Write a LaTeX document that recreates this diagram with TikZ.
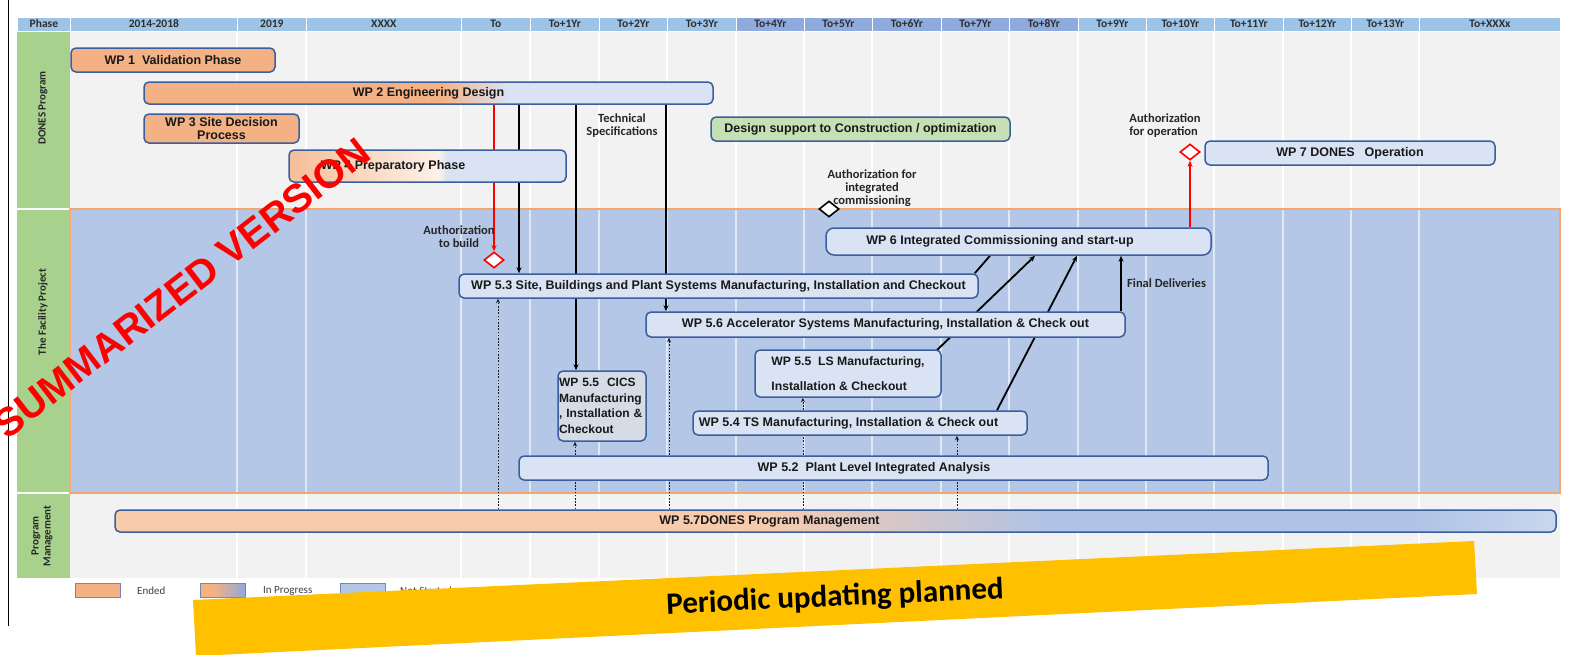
\documentclass[tikz,border=0pt]{standalone}
\usepackage{fontspec}
\setmainfont{Liberation Sans}
\newfontfamily\carl{Carlito}
\usetikzlibrary{shapes.geometric,arrows.meta,calc}
\definecolor{hb}{HTML}{9DC3E6}
\definecolor{hd}{HTML}{8FAADC}
\definecolor{hdt}{HTML}{2E2E2E}
\definecolor{lgray}{HTML}{F2F2F2}
\definecolor{lgreen}{HTML}{A9D18E}
\definecolor{fac}{HTML}{B4C7E7}
\definecolor{facb}{HTML}{F4A870}
\definecolor{bdr}{HTML}{3B5E9E}
\definecolor{lbl}{HTML}{DAE3F3}
\definecolor{orA}{HTML}{F4B183}
\definecolor{grn}{HTML}{C5E0B4}
\definecolor{cicsf}{HTML}{D6DCE5}
\definecolor{yel}{HTML}{FFC000}
\definecolor{txtg}{HTML}{262626}
\definecolor{pch}{HTML}{F5BE98}
\definecolor{pwh}{HTML}{FDF1EA}
\definecolor{pmo}{HTML}{F8CBAD}
\definecolor{pmb}{HTML}{AFC3E6}
\definecolor{pml}{HTML}{C9D7EE}
\definecolor{redc}{HTML}{FF0000}
\pgfdeclarelayer{bg}
\pgfdeclarelayer{lines}
\pgfsetlayers{bg,lines,main}
\pgfdeclarehorizontalshading{wptwo}{100bp}{color(0bp)=(orA); color(51bp)=(orA); color(57bp)=(lbl); color(100bp)=(lbl)}
\pgfdeclarehorizontalshading{wpfour}{100bp}{color(0bp)=(pch); color(25bp)=(pch); color(52bp)=(pwh); color(53.5bp)=(lbl); color(100bp)=(lbl)}
\pgfdeclarehorizontalshading{wpsev}{100bp}{color(0bp)=(pmo); color(47.5bp)=(pmo); color(57.5bp)=(pmb); color(70bp)=(pmb); color(75bp)=(pml); color(100bp)=(pml)}
\pgfdeclarehorizontalshading{inprog}{100bp}{color(0bp)=(orA); color(40bp)=(orA); color(75bp)=(hd); color(100bp)=(hd)}
\tikzset{
  wp/.style={draw=bdr, line width=1.5pt, rounded corners=5pt, fill=lbl, inner sep=1pt,
    font=\fontsize{12.5}{15}\selectfont\bfseries, text=black!90},
  ann/.style={font=\carl\bfseries\fontsize{12.5}{13}\selectfont, text=txtg, align=center, inner sep=0pt},
  hdr/.style={draw=white, line width=0.8pt, minimum height=14pt, inner sep=0pt, anchor=west,
    font=\carl\bfseries\fontsize{11.5}{11.5}\selectfont, text=hdt},
  lane/.style={rotate=90, font=\carl\bfseries\fontsize{11}{12}\selectfont, text=black!85, align=center, inner sep=0pt},
  blk/.style={line width=1.8pt, black, -{Stealth[length=6pt,width=5pt]}},
  blkline/.style={line width=1.8pt, black},
  redarr/.style={line width=1.8pt, redc, -{Stealth[length=6pt,width=5pt]}},
  dotarr/.style={line width=1pt, black!90, dash pattern=on 1.6pt off 1.6pt, -{Stealth[length=4.5pt,width=4pt]}},
  dia/.style={diamond, draw, line width=1.6pt, fill=white, minimum width=20pt, minimum height=16pt, inner sep=0pt},
  legbox/.style={draw=hd!80!black, line width=0.6pt, minimum width=45pt, minimum height=14pt, inner sep=0pt},
  legtxt/.style={font=\carl\fontsize{11}{12}\selectfont, text=black!75, anchor=west, inner sep=0pt}
}
\begin{document}
\begin{tikzpicture}[x=1pt,y=-1pt]
\useasboundingbox (0,0) rectangle (1574,654);
% ---------- backgrounds ----------
\begin{pgfonlayer}{bg}
\fill[white] (0,0) rectangle (1574,654);
\fill[lgray] (70,31) rectangle (1560,209);
\fill[fac] (70,209) rectangle (1560,493);
\fill[lgray] (70,493) rectangle (1560,578);
\foreach \x in {237,306,461,530,599,667,736,804,872,941,1009,1078,1146,1214,1283,1351,1419}{
  \draw[white, line width=1.2pt] (\x,31) -- (\x,209);
  \draw[white, opacity=0.6, line width=1.2pt] (\x,209) -- (\x,493);
  \draw[white, line width=1.2pt] (\x,493) -- (\x,578);
}
\draw[facb, line width=1.4pt] (70,209) rectangle (1560,493);
\fill[lgreen] (17,31) rectangle (70,208);
\fill[lgreen] (17,210) rectangle (70,492);
\fill[lgreen] (17,494) rectangle (70,578);
\draw[black, line width=1pt] (8,0) -- (8,626);
\end{pgfonlayer}
% ---------- header ----------
\foreach \a/\b/\t/\c [count=\i] in {17/70/Phase/hb, 70/237/2014-2018/hb, 237/306/2019/hb, 306/461/XXXX/hb,
  461/530/To/hb, 530/599/To+1Yr/hb, 599/667/To+2Yr/hb, 667/736/To+3Yr/hb, 736/804/To+4Yr/hd,
  804/872/To+5Yr/hd, 872/941/To+6Yr/hd, 941/1009/To+7Yr/hd, 1009/1078/To+8Yr/hd, 1078/1146/To+9Yr/hb,
  1146/1214/To+10Yr/hb, 1214/1283/To+11Yr/hb, 1283/1351/To+12Yr/hb, 1351/1419/To+13Yr/hb, 1419/1560/To+XXXx/hb}
  \node[hdr, fill=\c, minimum width={\b-\a}] (h\i) at (\a,24) {\t};
% ---------- lane labels ----------
\node[lane] (l1) at (43,108) {DONES Program};
\node[lane] (l2) at (43,312) {The Facility Project};
\node[lane] (l3) at (42,536) {Program\\Management};
% ---------- boxes ----------
\node[wp, fill=orA, minimum width=204pt, minimum height=24pt] (wp1) at (173,60) {WP 1\ \ Validation Phase};
\node[wp, shading=wptwo, minimum width=569pt, minimum height=22pt] (wp2) at (428.5,93) {WP 2 Engineering Design};
\node[wp, fill=orA, minimum width=155pt, minimum height=29pt, align=center, font=\fontsize{12.5}{13}\selectfont\bfseries] (wp3) at (221.5,128.5) {WP 3 Site Decision\\Process};
\node[wp, shading=wpfour, minimum width=277pt, minimum height=32pt] (wp4) at (427.5,166) {WP 4 Preparatory Phase\hspace*{69pt}};
\node[wp, fill=grn, minimum width=299pt, minimum height=24pt] (des) at (860.5,129) {Design support to Construction / optimization};
\node[wp, minimum width=290pt, minimum height=24pt] (wp7) at (1350,153) {WP 7 DONES\hspace{10pt}Operation};
\node[wp, rounded corners=8pt, minimum width=385pt, minimum height=27pt] (wp6) at (1018.5,241.5) {WP 6 Integrated Commissioning and start-up\hspace*{37pt}};
\node[wp, minimum width=519pt, minimum height=24pt] (wp53) at (718.5,286) {WP 5.3 Site, Buildings and Plant Systems Manufacturing, Installation and Checkout};
\node[wp, minimum width=479pt, minimum height=25pt] (wp56) at (885.5,324.5) {WP 5.6 Accelerator Systems Manufacturing, Installation \& Check out};
\node[wp, minimum width=186pt, minimum height=47pt, align=left, font=\fontsize{12.2}{14}\selectfont\bfseries] (wpls) at (848,373.5) {WP 5.5\ \ LS Manufacturing,\\[11pt]Installation \& Checkout};
\node[wp, fill=cicsf, minimum width=88pt, minimum height=70pt, text width=86pt, align=left, inner sep=0.5pt, font=\fontsize{12}{15.5}\selectfont\bfseries] (cics) at (602,406) {WP 5.5\ \ CICS\\Manufacturing\\, Installation \&\\Checkout};
\node[wp, minimum width=334pt, minimum height=24pt] (wp54) at (860,423) {WP 5.4 TS Manufacturing, Installation \& Check out\hspace*{23pt}};
\node[wp, minimum width=749pt, minimum height=24pt] (wp52) at (893.5,468) {WP 5.2\ \ Plant Level Integrated Analysis\hspace*{39pt}};
\node[wp, shading=wpsev, minimum width=1441pt, minimum height=22pt] (wp57) at (835.5,521) {WP 5.7DONES Program Management\hspace*{132pt}};
% ---------- diamonds ----------
\node[dia, draw=redc] (d1) at (494,260) {};
\node[dia, draw=black] (d2) at (829,209) {};
\node[dia, draw=redc] (d3) at (1190,152) {};
% ---------- annotations ----------
\node[ann] (t1) at (622,126) {Technical\\Specifications};
\node[ann] (t2) at (459,237) {Authorization\\to build};
\node[ann] (t3) at (872,188) {Authorization for\\integrated\\commissioning};
\node[ann, align=left] (t4) at (1165,126) {Authorization\\for operation};
\node[ann, anchor=west] (t5) at (1127,283) {Final Deliveries};
% ---------- connectors ----------
\coordinate (xa) at (519,0);
\coordinate (xb) at (576,0);
\coordinate (xc) at (666,0);
\coordinate (xd) at (990,0);
\coordinate (xe) at (1035,0);
\coordinate (xf) at (997,0);
\coordinate (xg) at (1077,0);
\coordinate (xh) at (1121,0);
\coordinate (p1) at (498,0);
\coordinate (p2) at (575,0);
\coordinate (p3) at (669,0);
\coordinate (p4) at (803,0);
\coordinate (p5) at (957,0);
\begin{pgfonlayer}{lines}
\draw[redarr] (d1 |- wp2.south) -- (d1.north);
\draw[blk] (xa |- wp2.south) -- (xa |- wp53.north);
\draw[blk] (xb |- wp2.south) -- (xb |- cics.north);
\draw[blk] (xc |- wp2.south) -- (xc |- wp56.north);
\draw[blkline] ($(wp53.north east)+(-4,0)$) -- (xd |- wp6.south);
\draw[blk] ($(wpls.north east)+(-6,2)$) -- (xe |- wp6.south);
\draw[blk] (xf |- wp54.north) -- (xg |- wp6.south);
\draw[blk] (xh |- wp56.north) -- (xh |- wp6.south);
\draw[redarr] (d3 |- wp6.north) -- (d3.south);
\draw[dotarr] (p1 |- wp57.north) -- (p1 |- wp53.south);
\draw[dotarr] (p2 |- wp57.north) -- (p2 |- cics.south);
\draw[dotarr] (p3 |- wp57.north) -- (p3 |- wp56.south);
\draw[dotarr] (p4 |- wp57.north) -- (p4 |- wpls.south);
\draw[dotarr] (p5 |- wp57.north) -- (p5 |- wp54.south);
\end{pgfonlayer}
% ---------- legend ----------
\node[legbox, fill=orA] (lg1) at (97.5,590) {};
\node[legtxt] (lt1) at (137,591) {Ended};
\node[legbox, shading=inprog] (lg2) at (222.5,590) {};
\node[legtxt] (lt2) at (263,591) {In Progress};
\node[legbox, fill=fac] (lg3) at (362.5,590) {};
\node[legtxt] (lt3) at (400,591) {Not Started};
% ---------- overlays ----------
\fill[yel] (193,600) -- (1474,541) -- (1477,594) -- (196,656) -- cycle;
\node[font=\carl\bfseries\fontsize{31}{32}\selectfont, text=black, rotate=2.64, inner sep=0pt] (pu) at (835,598) {Periodic updating planned};
\node[font=\bfseries\fontsize{40}{40}\selectfont, text=redc, rotate=37.7, inner sep=0pt] (sv) at (182,288) {SUMMARIZED VERSION};
\end{tikzpicture}
\end{document}
